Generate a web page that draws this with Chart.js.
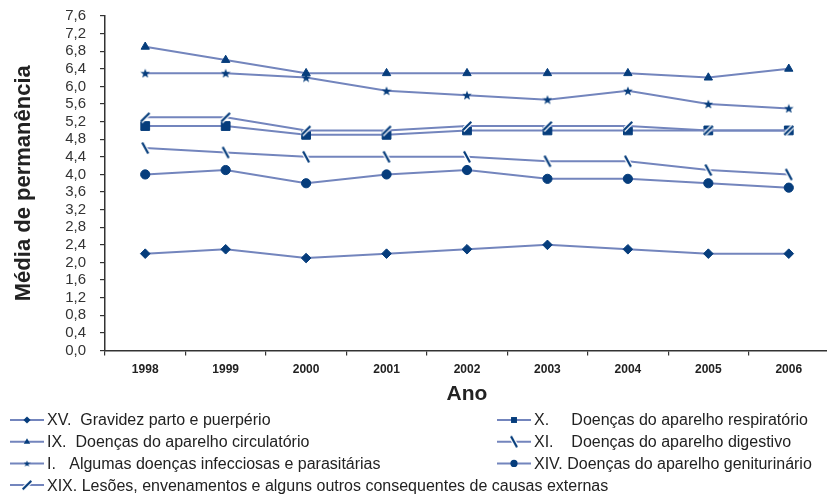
<!DOCTYPE html>
<html>
<head>
<meta charset="utf-8">
<script src="https://cdn.jsdelivr.net/npm/chart.js@4/dist/chart.umd.min.js"></script>
<style>
  html, body { margin: 0; padding: 0; background: #ffffff; overflow: hidden; }
  #wrap { width: 845px; height: 497px; }
</style>
</head>
<body>
<div id="wrap"><canvas id="c" width="845" height="497"></canvas></div>
<script>
// Anos
const years = ['1998', '1999', '2000', '2001', '2002', '2003', '2004', '2005', '2006'];

// Média de permanência (dias) por capítulo da CID-10
const gravidez       = [2.2, 2.3, 2.1, 2.2, 2.3, 2.4, 2.3, 2.2, 2.2];
const respiratorio   = [5.1, 5.1, 4.9, 4.9, 5.0, 5.0, 5.0, 5.0, 5.0];
const circulatorio   = [6.9, 6.6, 6.3, 6.3, 6.3, 6.3, 6.3, 6.2, 6.4];
const digestivo      = [4.6, 4.5, 4.4, 4.4, 4.4, 4.3, 4.3, 4.1, 4.0];
const infecciosas    = [6.3, 6.3, 6.2, 5.9, 5.8, 5.7, 5.9, 5.6, 5.5];
const geniturinario  = [4.0, 4.1, 3.8, 4.0, 4.1, 3.9, 3.9, 3.8, 3.7];
const lesoes         = [5.3, 5.3, 5.0, 5.0, 5.1, 5.1, 5.1, 5.0, 5.0];

const seriesNames = [
  'XV.  Gravidez parto e puerpério',
  'X.     Doenças do aparelho respiratório',
  'IX.  Doenças do aparelho circulatório',
  'XI.    Doenças do aparelho digestivo',
  'I.   Algumas doenças infecciosas e parasitárias',
  'XIV. Doenças do aparelho geniturinário',
  'XIX. Lesões, envenamentos e alguns outros consequentes de causas externas'
];

// Eixo Y: 0,0 a 7,6 de 0,4 em 0,4
const yMin = 0, yMax = 7.6, yStep = 0.4;

const LINE = '#7385bd';
const MARK = '#063d7c';

// Estrela cheia de cinco pontas usada como marcador
function makeStar(size, color) {
  const c = document.createElement('canvas');
  c.width = size; c.height = size;
  const g = c.getContext('2d');
  const cx = size / 2, cy = size / 2, ro = size / 2, ri = ro * 0.42;
  g.fillStyle = color;
  g.beginPath();
  for (let i = 0; i < 10; i++) {
    const r = i % 2 ? ri : ro;
    const a = -Math.PI / 2 + i * Math.PI / 5;
    const px = cx + r * Math.cos(a), py = cy + r * Math.sin(a) + 0.4;
    if (i === 0) g.moveTo(px, py); else g.lineTo(px, py);
  }
  g.closePath();
  g.fill();
  return c;
}

// Traço inclinado com contorno branco (marcadores "/" e "\")
function makeSlash(size, dx, dy, color) {
  const c = document.createElement('canvas');
  c.width = size; c.height = size;
  const g = c.getContext('2d');
  const m = size / 2;
  g.lineCap = 'butt';
  g.beginPath();
  g.moveTo(m - dx, m - dy); g.lineTo(m + dx, m + dy);
  g.strokeStyle = '#ffffff'; g.lineWidth = 4.6; g.stroke();
  g.beginPath();
  g.moveTo(m - dx, m - dy); g.lineTo(m + dx, m + dy);
  g.strokeStyle = color; g.lineWidth = 2.2; g.stroke();
  return c;
}

const starBig = makeStar(10, MARK);
const starSmall = makeStar(7, MARK);
const backSlash = makeSlash(16, 3, 5.6, MARK);
const fwdSlash = makeSlash(16, 4.3, -4.3, MARK);

const markers = [
  { style: 'rectRot',  radius: 4.8, legendRadius: 3.6 },
  { style: 'rect',     radius: 6.2, legendRadius: 4.2 },
  { style: 'triangle', radius: 4.8, legendRadius: 3.4 },
  { style: backSlash,  radius: 6,   legendRadius: 5, img: backSlash },
  { style: starBig,    radius: 5,   legendRadius: 3.5, img: starSmall },
  { style: 'circle',   radius: 4.6, legendRadius: 3.6 },
  { style: fwdSlash,   radius: 6,   legendRadius: 5, img: fwdSlash }
];

const seriesValues = [gravidez, respiratorio, circulatorio, digestivo, infecciosas, geniturinario, lesoes];

const datasets = seriesValues.map((vals, i) => ({
  label: seriesNames[i],
  data: vals,
  order: i === 6 ? -1 : i,
  borderColor: LINE,
  borderWidth: 2,
  backgroundColor: MARK,
  pointStyle: markers[i].style,
  pointRadius: markers[i].radius,
  pointBackgroundColor: MARK,
  pointBorderColor: MARK,
  pointBorderWidth: 1,
  pointHoverRadius: markers[i].radius,
  tension: 0,
  fill: false
}));

// Halo branco sob todas as linhas, desenhado antes das séries
const haloPlugin = {
  id: 'halo',
  beforeDatasetsDraw(chart) {
    const ctx = chart.ctx;
    ctx.save();
    ctx.strokeStyle = '#ffffff';
    ctx.lineWidth = 4;
    ctx.lineJoin = 'round';
    chart.getSortedVisibleDatasetMetas().forEach(meta => {
      const pts = meta.data;
      if (!pts.length) return;
      ctx.beginPath();
      pts.forEach((p, k) => { if (k === 0) ctx.moveTo(p.x, p.y); else ctx.lineTo(p.x, p.y); });
      ctx.stroke();
    });
    ctx.restore();
  }
};

// Marcador desenhado na legenda
function drawMarker(ctx, m, x, y) {
  const r = m.legendRadius;
  ctx.save();
  ctx.fillStyle = MARK;
  ctx.strokeStyle = MARK;
  ctx.beginPath();
  if (m.img) {
    ctx.drawImage(m.img, x - m.img.width / 2, y - m.img.height / 2);
    ctx.restore();
    return;
  }
  switch (m.style) {
    case 'rectRot':
      ctx.moveTo(x, y - r); ctx.lineTo(x + r, y); ctx.lineTo(x, y + r); ctx.lineTo(x - r, y);
      ctx.closePath(); ctx.fill(); break;
    case 'rect': {
      const s = r * Math.SQRT1_2;
      ctx.rect(x - s, y - s, 2 * s, 2 * s); ctx.fill(); break;
    }
    case 'triangle':
      ctx.moveTo(x, y - r); ctx.lineTo(x + r * 0.95, y + r * 0.6); ctx.lineTo(x - r * 0.95, y + r * 0.6);
      ctx.closePath(); ctx.fill(); break;
    case 'circle':
      ctx.arc(x, y, r, 0, Math.PI * 2); ctx.fill(); break;
  }
  ctx.restore();
}

// Legenda em duas colunas abaixo do gráfico
const legendPlugin = {
  id: 'twoColLegend',
  afterDraw(chart) {
    const ctx = chart.ctx;
    const colX = [10, 497];
    const rowY0 = 420, rowH = 21.7;
    chart.data.datasets.forEach((ds, i) => {
      const col = i % 2, row = Math.floor(i / 2);
      const x = colX[col], y = rowY0 + row * rowH;
      ctx.save();
      ctx.strokeStyle = LINE;
      ctx.lineWidth = 2;
      ctx.beginPath();
      ctx.moveTo(x, y); ctx.lineTo(x + 34, y);
      ctx.stroke();
      ctx.restore();
      drawMarker(ctx, markers[i], x + 17, y);
      ctx.save();
      ctx.fillStyle = '#222222';
      ctx.font = '16px "Liberation Sans", Arial, sans-serif';
      ctx.textBaseline = 'middle';
      ctx.textAlign = 'left';
      ctx.fillText(ds.label, x + 37, y + 1);
      ctx.restore();
    });
  }
};

new Chart(document.getElementById('c'), {
  type: 'line',
  data: { labels: years, datasets },
  plugins: [haloPlugin, legendPlugin],
  options: {
    responsive: false,
    animation: false,
    events: [],
    layout: { padding: { left: 0, right: 16, top: 16, bottom: 90 } },
    plugins: { legend: { display: false }, tooltip: { enabled: false } },
    scales: {
      x: {
        type: 'category',
        offset: true,
        grid: { display: true, offset: true, drawOnChartArea: false, drawTicks: true, tickLength: 5, color: '#333333', lineWidth: 1.2 },
        border: { display: true, color: '#333333', width: 1.5 },
        ticks: {
          color: '#222222',
          padding: 7,
          maxRotation: 0,
          font: { family: '"Liberation Sans", Arial, sans-serif', size: 12, weight: 'bold' }
        },
        title: {
          display: true,
          text: 'Ano',
          color: '#222222',
          padding: { top: 0, bottom: 0 },
          font: { family: '"Liberation Sans", Arial, sans-serif', size: 21, weight: 'bold' }
        },
        afterFit(scale) { scale.height = 56.5; }
      },
      y: {
        min: yMin,
        max: yMax,
        grid: { display: true, drawOnChartArea: false, drawTicks: true, tickLength: 5, color: '#333333', lineWidth: 1.2 },
        border: { display: true, color: '#333333', width: 1.5 },
        ticks: {
          stepSize: yStep,
          color: '#333333',
          padding: 14,
          autoSkip: false,
          font: { family: '"Liberation Sans", Arial, sans-serif', size: 15 },
          callback: (v) => Number(v).toFixed(1).replace('.', ',')
        },
        title: {
          display: true,
          text: 'Média de permanência',
          color: '#222222',
          padding: { top: 11, bottom: 0 },
          font: { family: '"Liberation Sans", Arial, sans-serif', size: 22, weight: 'bold' }
        },
        afterFit(scale) {
          scale.width = 105;
          scale.paddingTop = 0;
          scale.paddingBottom = 0;
        }
      }
    }
  }
});
</script>
</body>
</html>
